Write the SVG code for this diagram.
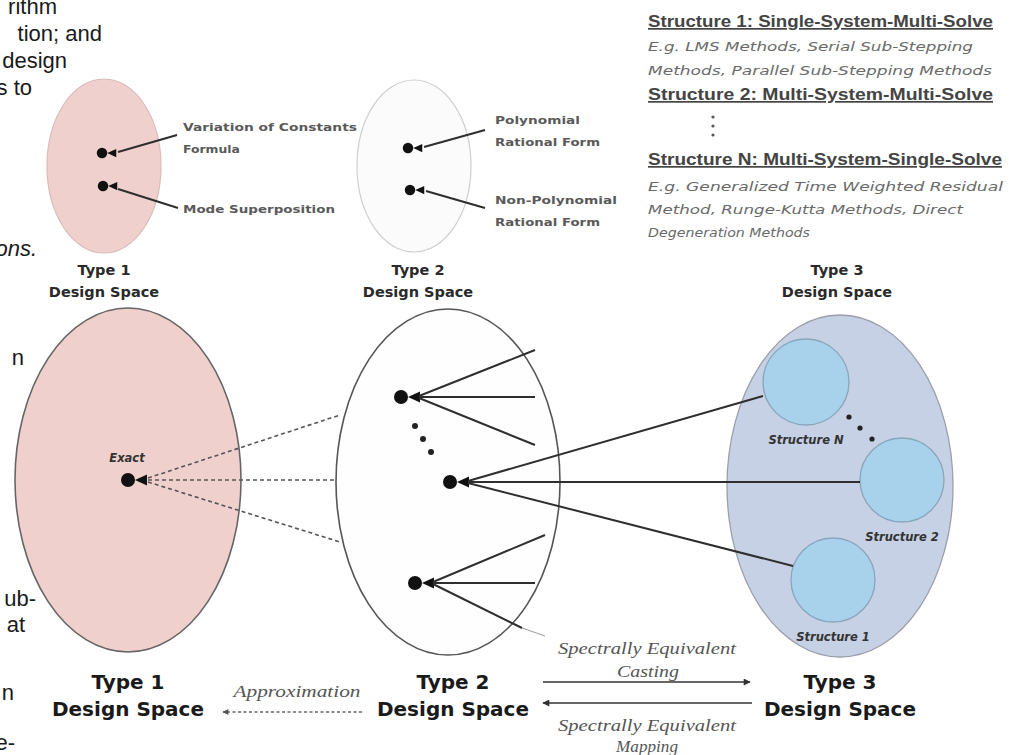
<svg xmlns="http://www.w3.org/2000/svg" xmlns:xlink="http://www.w3.org/1999/xlink" width="1009" height="755" viewBox="0 0 1009 755">
<defs>
<style>
.frag{font-family:"Liberation Sans",Arial,sans-serif;font-size:22px;fill:#1a1a1a;text-anchor:end}
.lbl{font-family:"DejaVu Sans",sans-serif;font-weight:bold;font-size:11px;fill:#5a5a5a}
.typeS{font-family:"DejaVu Sans",sans-serif;font-weight:bold;font-size:14.5px;fill:#2a2a2a;text-anchor:middle}
.typeL{font-family:"DejaVu Sans",sans-serif;font-weight:bold;font-size:20px;fill:#1a1a1a;text-anchor:middle}
.struct{font-family:"Liberation Sans",Arial,sans-serif;font-weight:bold;font-size:17px;fill:#444;text-decoration:underline}
.eg{font-family:"DejaVu Sans",sans-serif;font-style:oblique;font-size:12.5px;fill:#6a6a6a}
.ser{font-family:"Liberation Serif","Times New Roman",serif;font-style:italic;font-size:17px;fill:#555;text-anchor:middle}
.slab{font-family:"DejaVu Sans",sans-serif;font-weight:bold;font-style:oblique;font-size:11.5px;fill:#333;text-anchor:middle}
.solid{stroke:#2e2e2e;stroke-width:2;fill:none}
.dash{stroke:#555;stroke-width:1.6;stroke-dasharray:4 3;fill:none}
</style>
<g id="dot"><circle cx="0" cy="0" r="7" fill="#111"/><path d="M7 0 L19 -5.5 L19 5.5 Z" fill="#111"/></g>
<marker id="ah" viewBox="0 0 10 10" refX="9" refY="5" markerWidth="9" markerHeight="7" markerUnits="userSpaceOnUse" orient="auto-start-reverse"><path d="M0 0 L10 5 L0 10 Z" fill="#333"/></marker>
<marker id="ahg" viewBox="0 0 10 10" refX="9" refY="5" markerWidth="8" markerHeight="6" markerUnits="userSpaceOnUse" orient="auto-start-reverse"><path d="M0 0 L10 5 L0 10 Z" fill="#555"/></marker>
</defs>
<rect width="1009" height="755" fill="#fff"/>

<g id="paragraph-fragments">
<text class="frag" x="57" y="14">rithm</text>
<text class="frag" x="102" y="41">tion; and</text>
<text class="frag" x="67" y="68">design</text>
<text class="frag" x="32" y="95">s to</text>
<text class="frag" x="37" y="256" font-style="italic">ons.</text>
<text class="frag" x="24" y="365">n</text>
<text class="frag" x="36" y="606">ub-</text>
<text class="frag" x="25" y="632">at</text>
<text class="frag" x="14" y="700">n</text>
<text class="frag" x="15" y="750">e-</text>
</g>

<g id="type1-small">
<ellipse cx="104" cy="166" rx="57" ry="87" fill="#efd0cd" stroke="#d9bcb9" stroke-width="1.2"/>
<use xlink:href="#dot" transform="translate(102,153) scale(0.75)"/>
<use xlink:href="#dot" transform="translate(103,186) scale(0.75)"/>
<text class="lbl" x="183" y="131" textLength="174" lengthAdjust="spacingAndGlyphs">Variation of Constants</text>
<text class="lbl" x="183" y="153" textLength="57" lengthAdjust="spacingAndGlyphs">Formula</text>
<text class="lbl" x="183" y="213" textLength="152" lengthAdjust="spacingAndGlyphs">Mode Superposition</text>
<text class="typeS" x="104" y="275">Type 1</text>
<text class="typeS" x="104" y="297">Design Space</text>
</g>

<g id="type2-small">
<ellipse cx="414" cy="166" rx="57" ry="86" fill="#fbfbfb" stroke="#cfcfcf" stroke-width="1.2"/>
<use xlink:href="#dot" transform="translate(408,148) scale(0.75)"/>
<use xlink:href="#dot" transform="translate(410,190) scale(0.75)"/>
<text class="lbl" x="495" y="124" textLength="85" lengthAdjust="spacingAndGlyphs">Polynomial</text>
<text class="lbl" x="495" y="146" textLength="105" lengthAdjust="spacingAndGlyphs">Rational Form</text>
<text class="lbl" x="495" y="204" textLength="122" lengthAdjust="spacingAndGlyphs">Non-Polynomial</text>
<text class="lbl" x="495" y="226" textLength="105" lengthAdjust="spacingAndGlyphs">Rational Form</text>
<text class="typeS" x="418" y="275">Type 2</text>
<text class="typeS" x="418" y="297">Design Space</text>
</g>

<g id="structure-legend">
<text class="struct" x="648" y="27" textLength="345" lengthAdjust="spacingAndGlyphs">Structure 1: Single-System-Multi-Solve</text>
<text class="eg" x="648" y="51" textLength="325" lengthAdjust="spacingAndGlyphs">E.g. LMS Methods, Serial Sub-Stepping</text>
<text class="eg" x="648" y="75" textLength="344" lengthAdjust="spacingAndGlyphs">Methods, Parallel Sub-Stepping Methods</text>
<text class="struct" x="648" y="100" textLength="345" lengthAdjust="spacingAndGlyphs">Structure 2: Multi-System-Multi-Solve</text>
<circle cx="713" cy="117" r="1.6" fill="#555"/>
<circle cx="713" cy="126" r="1.6" fill="#555"/>
<circle cx="713" cy="135" r="1.6" fill="#555"/>
<text class="struct" x="648" y="165" textLength="354" lengthAdjust="spacingAndGlyphs">Structure N: Multi-System-Single-Solve</text>
<text class="eg" x="648" y="191" textLength="355" lengthAdjust="spacingAndGlyphs">E.g. Generalized Time Weighted Residual</text>
<text class="eg" x="648" y="214" textLength="315" lengthAdjust="spacingAndGlyphs">Method, Runge-Kutta Methods, Direct</text>
<text class="eg" x="648" y="237" textLength="162" lengthAdjust="spacingAndGlyphs">Degeneration Methods</text>
<text class="typeS" x="837" y="275">Type 3</text>
<text class="typeS" x="837" y="297">Design Space</text>
</g>

<g id="type1-large">
<ellipse cx="128" cy="480" rx="113" ry="172" fill="#efd0cd" stroke="#666" stroke-width="1.6"/>
<text class="slab" x="127" y="462" font-size="10.5" fill="#444">Exact</text>
<use xlink:href="#dot" transform="translate(128,480)"/>
<text class="typeL" x="128" y="689">Type 1</text>
<text class="typeL" x="128" y="716">Design Space</text>
</g>

<g id="type2-large">
<ellipse cx="448" cy="482" rx="112" ry="173" fill="#fefefe" stroke="#555" stroke-width="1.6"/>
<use xlink:href="#dot" transform="translate(401,397)"/>
<use xlink:href="#dot" transform="translate(450,482)"/>
<use xlink:href="#dot" transform="translate(415,583)"/>
<circle cx="415" cy="426" r="3" fill="#222"/>
<circle cx="423" cy="439" r="3" fill="#222"/>
<circle cx="431" cy="452" r="3" fill="#222"/>
<text class="typeL" x="453" y="689">Type 2</text>
<text class="typeL" x="453" y="716">Design Space</text>
</g>

<g id="type3-large">
<ellipse cx="840" cy="486" rx="113" ry="171" fill="#c7d1e5" stroke="#9aa0ab" stroke-width="1.3"/>
<g id="structure-n">
<circle cx="806" cy="382" r="43" fill="#a8d1ec" stroke="#88a6ba" stroke-width="1.3"/>
<text class="slab" x="806" y="444">Structure N</text>
</g>
<g id="structure-2">
<circle cx="902" cy="480" r="42" fill="#a8d1ec" stroke="#88a6ba" stroke-width="1.3"/>
<text class="slab" x="902" y="541">Structure 2</text>
</g>
<g id="structure-1">
<circle cx="833" cy="580" r="42" fill="#a8d1ec" stroke="#88a6ba" stroke-width="1.3"/>
<text class="slab" x="833" y="641">Structure 1</text>
</g>
<circle cx="849" cy="417" r="2.6" fill="#222"/>
<circle cx="860" cy="428" r="2.6" fill="#222"/>
<circle cx="872" cy="439" r="2.6" fill="#222"/>
<text class="typeL" x="840" y="689">Type 3</text>
<text class="typeL" x="840" y="716">Design Space</text>
</g>

<g id="connectors">
<line class="solid" x1="118" y1="152" x2="177" y2="135" stroke-width="1.8"/>
<line class="solid" x1="118" y1="189" x2="178" y2="208" stroke-width="1.8"/>
<line class="solid" x1="424" y1="147" x2="485" y2="130" stroke-width="1.8"/>
<line class="solid" x1="426" y1="191" x2="485" y2="208" stroke-width="1.8"/>
<line class="dash" x1="148" y1="478" x2="340" y2="415"/>
<line class="dash" x1="148" y1="480" x2="336" y2="480"/>
<line class="dash" x1="148" y1="482" x2="340" y2="542"/>
<line class="solid" x1="419" y1="396" x2="535" y2="350"/>
<line class="solid" x1="419" y1="397" x2="535" y2="397"/>
<line class="solid" x1="419" y1="398" x2="535" y2="445"/>
<line class="solid" x1="468" y1="481" x2="763" y2="396"/>
<line class="solid" x1="468" y1="482" x2="860" y2="482"/>
<line class="solid" x1="468" y1="483" x2="793" y2="566"/>
<line class="solid" x1="433" y1="582" x2="545" y2="535"/>
<line class="solid" x1="433" y1="583" x2="535" y2="583"/>
<line class="solid" x1="433" y1="584" x2="522" y2="628"/>
<line x1="522" y1="628" x2="545" y2="636" stroke="#999" stroke-width="1"/>
<line x1="362" y1="712" x2="223" y2="712" stroke="#666" stroke-width="1.3" stroke-dasharray="3 2.5" marker-end="url(#ahg)"/>
<line x1="543" y1="682" x2="750" y2="682" stroke="#333" stroke-width="1.6" marker-end="url(#ah)"/>
<line x1="752" y1="703" x2="543" y2="703" stroke="#333" stroke-width="1.6" marker-end="url(#ah)"/>
</g>

<g id="edge-labels">
<text class="ser" x="297" y="697" font-size="16" fill="#777" textLength="127" lengthAdjust="spacingAndGlyphs">Approximation</text>
<text class="ser" x="647" y="654" textLength="178" lengthAdjust="spacingAndGlyphs">Spectrally Equivalent</text>
<text class="ser" x="648" y="677" textLength="62" lengthAdjust="spacingAndGlyphs">Casting</text>
<text class="ser" x="647" y="731" textLength="178" lengthAdjust="spacingAndGlyphs">Spectrally Equivalent</text>
<text class="ser" x="647" y="752" textLength="62" lengthAdjust="spacingAndGlyphs">Mapping</text>
</g>
</svg>
